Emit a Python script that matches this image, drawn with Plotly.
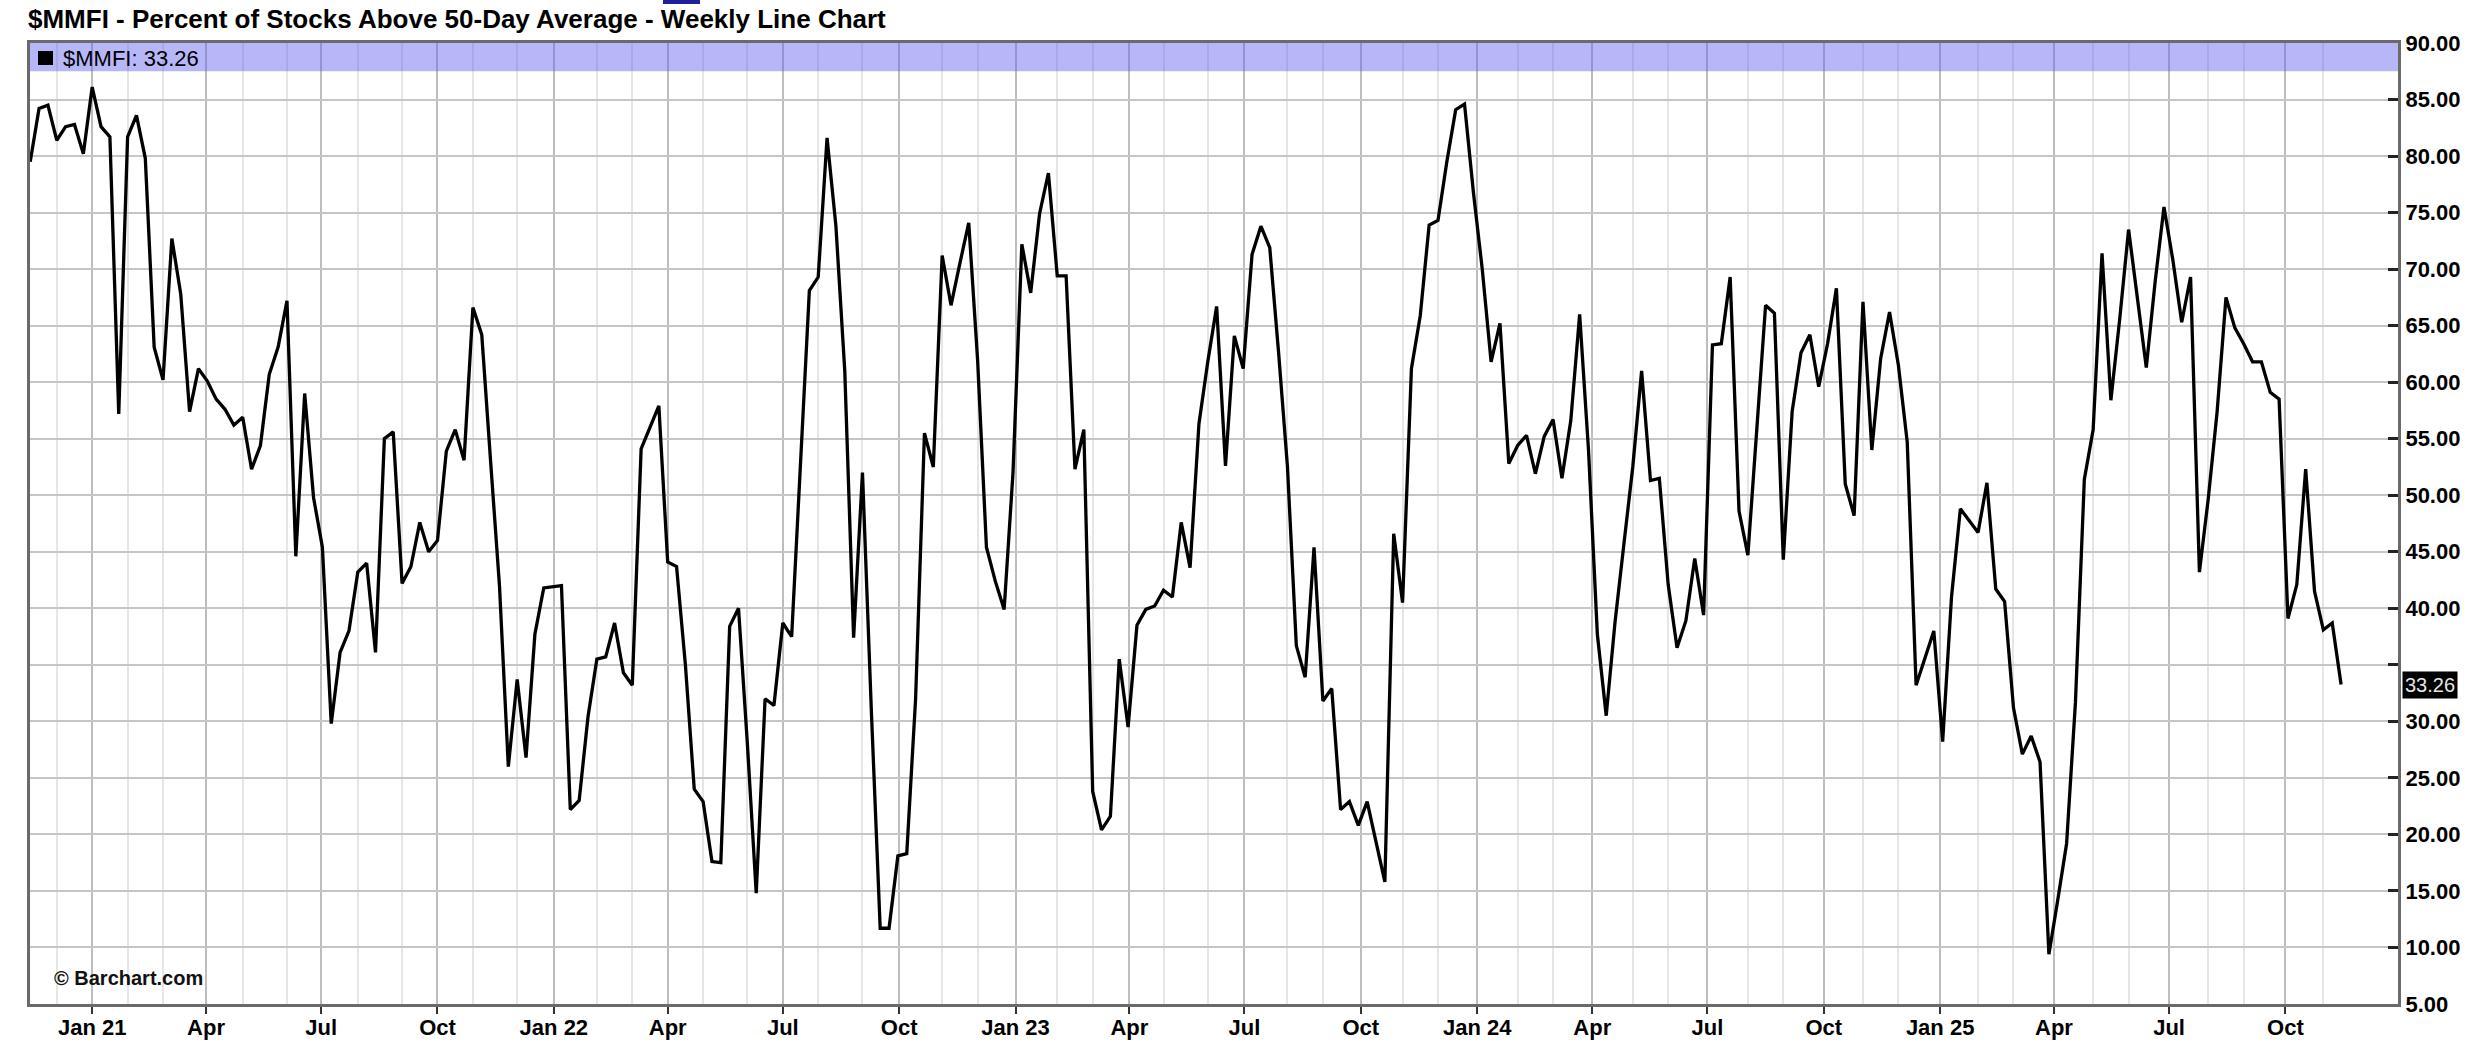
import pandas as pd
import plotly.graph_objects as go

# ---------------- data ----------------
start_date = "2020-11-13"          # first weekly bar (Friday)
mmfi = [
    79.5, 84.2, 84.5, 81.4, 82.6, 82.8, 80.2, 86.1, 82.6, 81.7,
    57.2, 81.7, 83.6, 79.8, 63.1, 60.2, 72.7, 67.8, 57.4, 61.2,
    60.1, 58.5, 57.6, 56.2, 56.9, 52.3, 54.4, 60.7, 63.1, 67.2,
    44.6, 59.0, 49.8, 45.4, 29.8, 36.1, 38.0, 43.2, 44.0, 36.1,
    55.0, 55.6, 42.2, 43.7, 47.6, 45.0, 46.0, 53.9, 55.8, 53.1,
    66.6, 64.2, 53.0, 42.0, 26.0, 33.7, 26.8, 37.7, 41.8, 41.9,
    42.0, 22.2, 23.0, 30.4, 35.5, 35.7, 38.7, 34.3, 33.2, 54.1,
    56.0, 57.9, 44.1, 43.7, 35.0, 24.0, 22.9, 17.6, 17.5, 38.4,
    40.0, 28.0, 14.8, 32.0, 31.4, 38.7, 37.5, 53.0, 68.1, 69.3,
    81.6, 73.8, 61.0, 37.4, 52.0, 31.0, 11.7, 11.7, 18.1, 18.3,
    32.0, 55.5, 52.5, 71.2, 66.8, 70.5, 74.1, 62.0, 45.4, 42.4,
    39.9, 52.0, 72.2, 67.9, 74.9, 78.5, 69.4, 69.4, 52.3, 55.8,
    23.8, 20.4, 21.6, 35.5, 29.5, 38.5, 39.9, 40.2, 41.6, 41.0,
    47.6, 43.6, 56.3, 61.8, 66.7, 52.6, 64.1, 61.2, 71.3, 73.8,
    71.9, 62.6, 52.5, 36.7, 33.9, 45.4, 31.8, 32.9, 22.2, 22.9,
    20.8, 22.9, 19.4, 15.8, 46.6, 40.5, 61.2, 65.9, 73.9, 74.3,
    79.5, 84.1, 84.6, 76.8, 70.0, 61.8, 65.2, 52.8, 54.4, 55.3,
    51.9, 55.2, 56.7, 51.5, 56.6, 66.0, 54.0, 37.7, 30.5, 38.8,
    45.7, 52.5, 61.0, 51.3, 51.5, 42.1, 36.5, 38.9, 44.4, 39.4,
    63.3, 63.4, 69.3, 48.6, 44.7, 56.0, 66.8, 66.1, 44.3, 57.4,
    62.6, 64.2, 59.6, 63.4, 68.3, 51.0, 48.2, 67.1, 54.0, 62.1,
    66.2, 61.5, 54.7, 33.2, 35.5, 38.0, 28.2, 41.0, 48.8, 47.8,
    46.7, 51.1, 41.7, 40.6, 31.2, 27.1, 28.7, 26.4, 9.4, 14.2,
    19.2, 31.7, 51.4, 55.8, 71.4, 58.4, 65.6, 73.5, 67.2, 61.3,
    68.9, 75.5, 70.8, 65.3, 69.3, 43.2, 49.7, 57.4, 67.5, 64.8,
    63.4, 61.8, 61.8, 59.1, 58.5, 39.1, 42.1, 52.3, 41.5, 38.1,
    38.7, 33.26,
]
dates = pd.date_range(start_date, periods=len(mmfi), freq="7D")

x_tick_dates = ["2021-01-01", "2021-04-01", "2021-07-01", "2021-10-01",
                "2022-01-01", "2022-04-01", "2022-07-01", "2022-10-01",
                "2023-01-01", "2023-04-01", "2023-07-01", "2023-10-01",
                "2024-01-01", "2024-04-01", "2024-07-01", "2024-10-01",
                "2025-01-01", "2025-04-01", "2025-07-01", "2025-10-01"]
x_tick_text = ["Jan 21", "Apr", "Jul", "Oct", "Jan 22", "Apr", "Jul", "Oct",
               "Jan 23", "Apr", "Jul", "Oct", "Jan 24", "Apr", "Jul", "Oct",
               "Jan 25", "Apr", "Jul", "Oct"]
y_tick_vals = [5, 10, 15, 20, 25, 30, 35, 40, 45, 50, 55, 60, 65, 70, 75, 80, 85, 90]
y_tick_text = ["5.00", "10.00", "15.00", "20.00", "25.00", "30.00", "",
               "40.00", "45.00", "50.00", "55.00", "60.00", "65.00", "70.00",
               "75.00", "80.00", "85.00", "90.00"]

title_text = "$MMFI - Percent of Stocks Above 50-Day Average - Weekly Line Chart"
symbol = "$MMFI"

# minor (monthly) grid lines: weekly bar nearest to each non-quarter month start
minor_vals = []
for m in pd.date_range("2020-12-01", "2025-11-01", freq="MS"):
    if m.month in (1, 4, 7, 10):
        continue
    delta = ((4 - m.weekday() + 3) % 7) - 3
    minor_vals.append((m + pd.Timedelta(days=delta)).strftime("%Y-%m-%d"))

# ---------------- figure ----------------
W, H = 2490, 1054
ML, MR, MT, MB = 30, 92, 43, 50
PW, PH = W - ML - MR, H - MT - MB
FONT = "Liberation Sans, Arial, sans-serif"


def px_x(px):
    return (px - ML) / PW


def px_y(py):
    return 1 - (py - MT) / PH


fig = go.Figure()
fig.add_trace(go.Scatter(
    x=dates, y=mmfi, mode="lines",
    line=dict(color="#000000", width=3.3),
    hoverinfo="x+y", showlegend=False,
))

fig.update_layout(
    width=W, height=H,
    margin=dict(l=ML, r=MR, t=MT, b=MB, pad=0, autoexpand=False),
    paper_bgcolor="white", plot_bgcolor="white",
    showlegend=False,
    font=dict(family=FONT, color="#000"),
)

fig.update_xaxes(
    type="date", automargin=False,
    range=["2020-11-12 20:00", "2025-12-29"],
    tickmode="array", tickvals=x_tick_dates, ticktext=x_tick_text,
    tickfont=dict(family=FONT, size=22, color="#000", weight="bold"),
    ticks="outside", ticklen=7, tickwidth=2, tickcolor="#333",
    ticklabelstandoff=-5,
    showgrid=True, gridcolor="#bdbdbd", gridwidth=2,
    minor=dict(tickmode="array", tickvals=minor_vals, showgrid=True,
               gridcolor="#e6e6e6", gridwidth=2, ticks=""),
    showline=True, linecolor="#6a6a6a", linewidth=3, mirror=True,
    zeroline=False,
)
fig.update_yaxes(
    side="right", automargin=False,
    range=[5, 90],
    tickmode="array", tickvals=y_tick_vals, ticktext=y_tick_text,
    tickfont=dict(family=FONT, size=22, color="#000", weight="bold"),
    ticks="inside", ticklen=10, tickwidth=3, tickcolor="#222",
    showgrid=True, gridcolor="#c6c6c6", gridwidth=2,
    showline=True, linecolor="#6a6a6a", linewidth=3, mirror=True,
    zeroline=False,
)

# legend band at top of plot
fig.add_shape(type="rect", xref="paper", yref="y", x0=0, x1=1, y0=87.5, y1=90,
              fillcolor="rgba(95,95,240,0.45)", line=dict(width=0), layer="above")
# legend swatch
fig.add_shape(type="rect", xref="paper", yref="paper",
              x0=px_x(38), x1=px_x(53), y0=px_y(65), y1=px_y(51),
              fillcolor="#000", line=dict(width=0), layer="above")
fig.add_annotation(xref="paper", yref="paper", x=px_x(61), y=px_y(58),
                   xanchor="left", yanchor="middle", showarrow=False,
                   text=f"{symbol}: {mmfi[-1]:.2f}",
                   font=dict(family=FONT, size=22, color="#000"))

# title
fig.add_annotation(xref="paper", yref="paper", x=px_x(26), y=px_y(19),
                   xanchor="left", yanchor="middle", showarrow=False,
                   text=title_text,
                   font=dict(family=FONT, size=26, color="#000", weight="bold"))
# small blue mark above title
fig.add_shape(type="rect", xref="paper", yref="paper",
              x0=px_x(663), x1=px_x(700), y0=px_y(4), y1=px_y(0),
              fillcolor="#1f1f99", line=dict(width=0))

# watermark
fig.add_annotation(xref="paper", yref="paper", x=px_x(52), y=px_y(978),
                   xanchor="left", yanchor="middle", showarrow=False,
                   text="© Barchart.com",
                   font=dict(family=FONT, size=20, color="#111", weight="bold"))

# last value label on the axis
fig.add_annotation(xref="paper", yref="y", x=1, y=mmfi[-1],
                   xanchor="left", yanchor="middle", xshift=4, showarrow=False,
                   text=f"{mmfi[-1]:.2f}", bgcolor="#000", borderpad=2,
                   font=dict(family=FONT, size=20, color="#e6e6e6"))

fig.write_html("out.html",
               config={"displayModeBar": False},
               post_script="document.body.style.margin='0';"
                           "document.documentElement.style.margin='0';")
